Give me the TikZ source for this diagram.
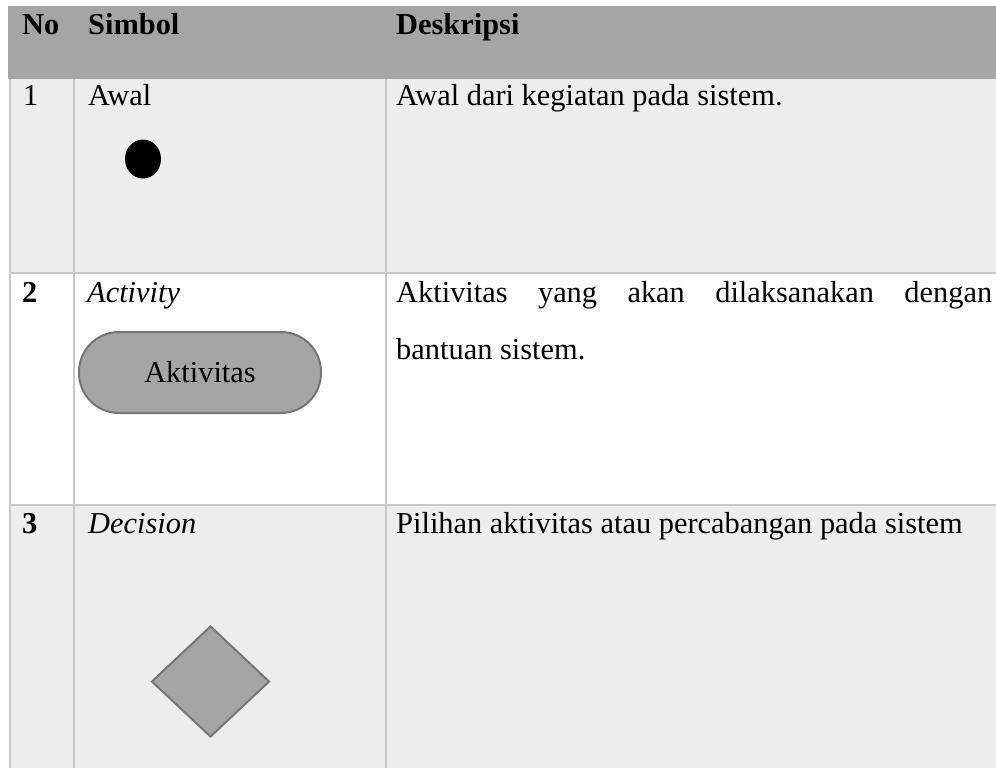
\documentclass[tikz,border=0pt]{standalone}
\usepackage{fontspec}
\setmainfont{Liberation Serif}
\usetikzlibrary{shapes.geometric}
\definecolor{headgray}{HTML}{A5A5A5}
\definecolor{rowgray}{HTML}{EDEDED}
\definecolor{rulegray}{HTML}{C9C9C9}
\definecolor{shapeedge}{HTML}{767676}
\newcommand{\tabfont}{\fontsize{30.4}{36}\selectfont}
\begin{document}
\begin{tikzpicture}[x=1pt,y=-1pt,
  txt/.style={anchor=base west,inner sep=0pt,font=\tabfont},
  bold/.style={txt,font=\tabfont\bfseries},
  ital/.style={txt,font=\tabfont\itshape},
  rule/.style={draw=rulegray,line width=2pt},
  sym/.style={fill=headgray,draw=shapeedge,line width=2pt,inner sep=0pt}]
\useasboundingbox (0,0) rectangle (996,768);
% cell backgrounds
\fill[white] (0,0) rectangle (996,768);
\fill[headgray] (8,6) rectangle (996,79);
\fill[rowgray] (9,79) rectangle (996,273);
\fill[rowgray] (9,505) rectangle (996,768);
% grid lines
\draw[rule] (10,79) -- (10,768);
\draw[rule] (74,79) -- (74,768);
\draw[rule] (386,79) -- (386,768);
\draw[rule] (9,273) -- (996,273);
\draw[rule] (9,505) -- (996,505);
% header
\node[bold] (hno) at (22,35) {No};
\node[bold] (hsym) at (88,35) {Simbol};
\node[bold] (hdesc) at (396,35) {Deskripsi};
% row 1
\node[txt] (n1) at (23,106) {1};
\node[txt] (s1) at (88,106) {Awal};
\node[txt] (d1) at (396,106) {Awal dari kegiatan pada sistem.};
\node[fill=black,ellipse,minimum width=36pt,minimum height=39pt,inner sep=0pt] (start) at (143,159) {};
% row 2
\node[bold] (n2) at (22,302) {2};
\node[ital] (s2) at (87,302) {Activity};
\node[txt] (d2a) at (396,302) {\makebox[596pt][s]{Aktivitas yang akan dilaksanakan dengan}};
\node[txt] (d2b) at (396,359) {bantuan sistem.};
\node[sym,rectangle,rounded corners=40pt,minimum width=242pt,minimum height=81pt,
  font=\tabfont] (act) at (200,372.5) {Aktivitas};
% row 3
\node[bold] (n3) at (22,533) {3};
\node[ital] (s3) at (88,533) {Decision};
\node[txt] (d3) at (396,533) {Pilihan aktivitas atau percabangan pada sistem};
\node[sym,diamond,minimum width=118pt,minimum height=111pt] (dec) at (210.5,681.5) {};
\end{tikzpicture}
\end{document}
